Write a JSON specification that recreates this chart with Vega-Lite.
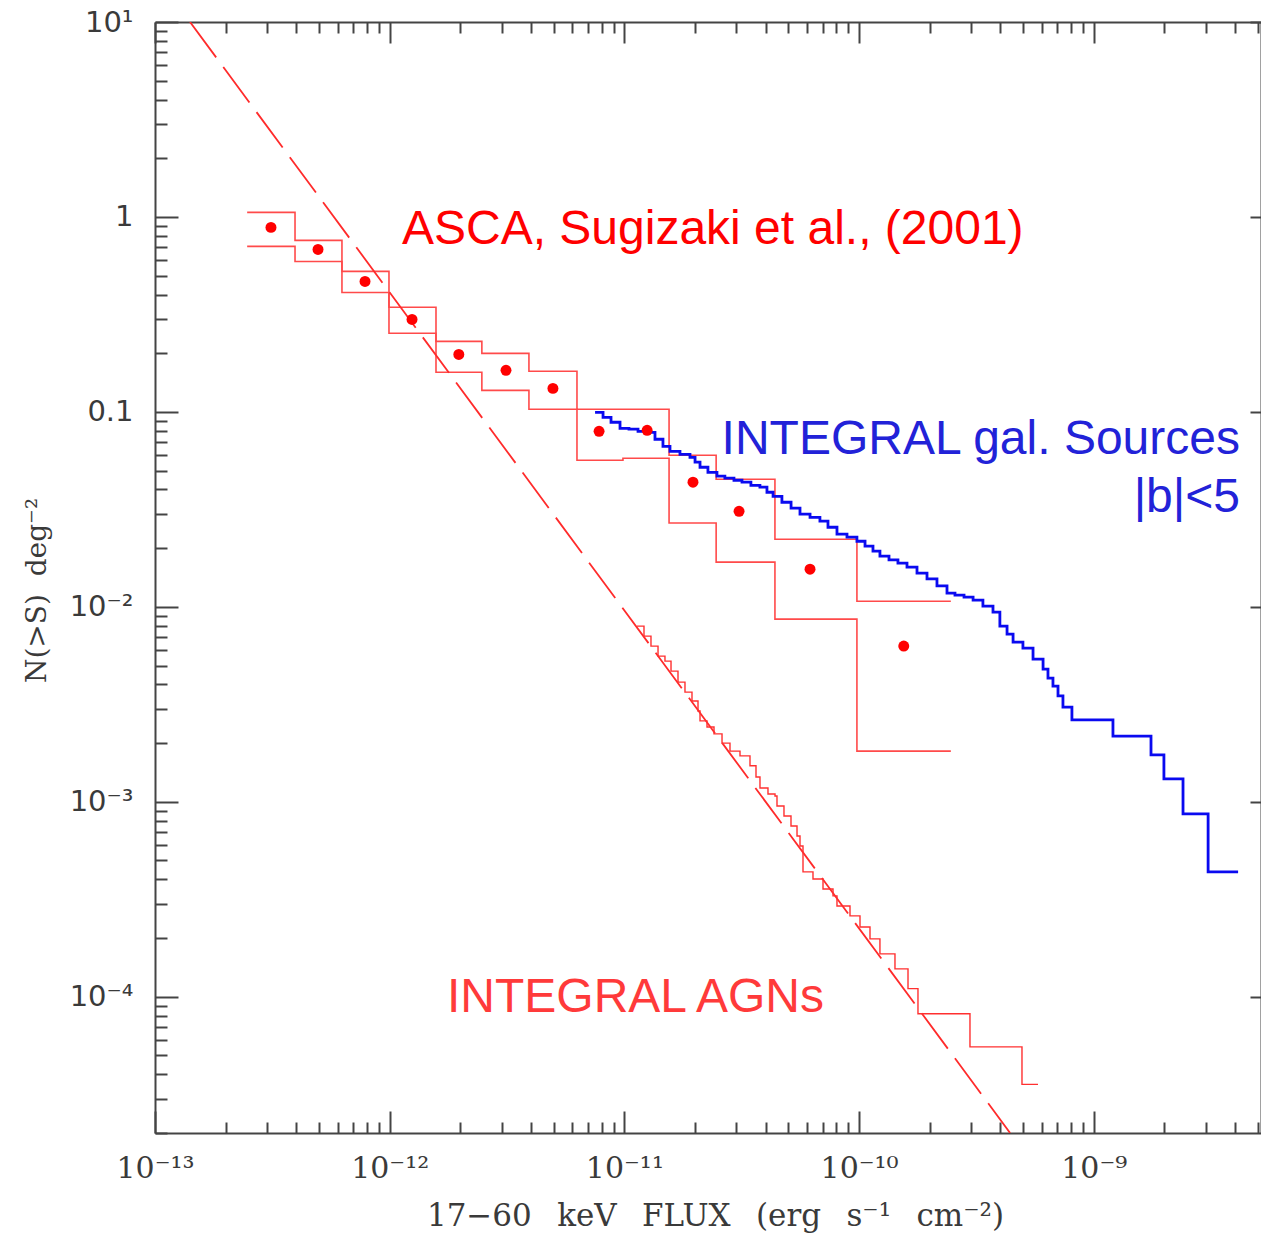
{
  "$schema": "https://vega.github.io/schema/vega-lite/v6.json",
  "autosize": {"type": "none"},
  "padding": {"left": 155, "top": 22, "right": 0, "bottom": 100},
  "width": 1106,
  "height": 1111,
  "background": "white",
  "config": {
    "view": {"stroke": null},
    "axis": {
      "grid": false,
      "domainColor": "#444444",
      "domainWidth": 2,
      "tickColor": "#444444",
      "tickWidth": 2,
      "labelColor": "#3a3a3a",
      "titleColor": "#3a3a3a",
      "titleFontWeight": "normal",
      "labelOverlap": false,
      "labelFlush": false,
      "labelBound": false
    }
  },
  "datasets": {
    "asca_upper": [
      {"flux": 2.47e-13, "n": 1.055},
      {"flux": 3.95e-13, "n": 0.758},
      {"flux": 6.26e-13, "n": 0.526},
      {"flux": 9.93e-13, "n": 0.344},
      {"flux": 1.575e-12, "n": 0.230},
      {"flux": 2.47e-12, "n": 0.1997},
      {"flux": 3.92e-12, "n": 0.1615},
      {"flux": 6.28e-12, "n": 0.1031},
      {"flux": 9.86e-12, "n": 0.1031},
      {"flux": 1.55e-11, "n": 0.0599},
      {"flux": 2.46e-11, "n": 0.0451},
      {"flux": 4.38e-11, "n": 0.0222},
      {"flux": 9.79e-11, "n": 0.01069},
      {"flux": 2.46e-10, "n": 0.01069}
    ],
    "asca_lower": [
      {"flux": 2.47e-13, "n": 0.706},
      {"flux": 3.95e-13, "n": 0.591},
      {"flux": 6.26e-13, "n": 0.410},
      {"flux": 9.93e-13, "n": 0.253},
      {"flux": 1.575e-12, "n": 0.1596},
      {"flux": 2.47e-12, "n": 0.129},
      {"flux": 3.92e-12, "n": 0.1031},
      {"flux": 6.28e-12, "n": 0.0565},
      {"flux": 9.86e-12, "n": 0.0578},
      {"flux": 1.55e-11, "n": 0.0269},
      {"flux": 2.46e-11, "n": 0.01695},
      {"flux": 4.38e-11, "n": 0.00865},
      {"flux": 9.79e-11, "n": 0.00182},
      {"flux": 2.46e-10, "n": 0.00182}
    ],
    "asca_points": [
      {"flux": 3.12e-13, "n": 0.884},
      {"flux": 4.95e-13, "n": 0.681},
      {"flux": 7.85e-13, "n": 0.467},
      {"flux": 1.245e-12, "n": 0.298},
      {"flux": 1.97e-12, "n": 0.197},
      {"flux": 3.13e-12, "n": 0.1634},
      {"flux": 4.96e-12, "n": 0.132},
      {"flux": 7.8e-12, "n": 0.0795},
      {"flux": 1.25e-11, "n": 0.0805},
      {"flux": 1.96e-11, "n": 0.0436},
      {"flux": 3.08e-11, "n": 0.0309},
      {"flux": 6.18e-11, "n": 0.0156},
      {"flux": 1.55e-10, "n": 0.00629}
    ],
    "powerlaw": [
      {"flux": 1.41e-13, "n": 10},
      {"flux": 4.40e-10, "n": 2.0e-5}
    ],
    "integral_agn": [
      {"flux": 1.132e-11, "n": 0.00796},
      {"flux": 1.212e-11, "n": 0.00708},
      {"flux": 1.298e-11, "n": 0.00629},
      {"flux": 1.391e-11, "n": 0.00559},
      {"flux": 1.489e-11, "n": 0.00527},
      {"flux": 1.580e-11, "n": 0.00468},
      {"flux": 1.692e-11, "n": 0.00411},
      {"flux": 1.812e-11, "n": 0.00365},
      {"flux": 1.941e-11, "n": 0.00329},
      {"flux": 2.059e-11, "n": 0.00292},
      {"flux": 2.100e-11, "n": 0.00260},
      {"flux": 2.249e-11, "n": 0.00242},
      {"flux": 2.409e-11, "n": 0.00223},
      {"flux": 2.606e-11, "n": 0.00200},
      {"flux": 2.818e-11, "n": 0.00182},
      {"flux": 3.109e-11, "n": 0.00172},
      {"flux": 3.429e-11, "n": 0.00153},
      {"flux": 3.637e-11, "n": 0.00134},
      {"flux": 3.782e-11, "n": 0.001176},
      {"flux": 4.091e-11, "n": 0.001096},
      {"flux": 4.383e-11, "n": 0.001071},
      {"flux": 4.469e-11, "n": 0.000952},
      {"flux": 4.786e-11, "n": 0.000846},
      {"flux": 5.127e-11, "n": 0.000751},
      {"flux": 5.439e-11, "n": 0.000668},
      {"flux": 5.601e-11, "n": 0.000593},
      {"flux": 5.768e-11, "n": 0.000437},
      {"flux": 6.362e-11, "n": 0.000402},
      {"flux": 7.019e-11, "n": 0.000357},
      {"flux": 7.743e-11, "n": 0.000329},
      {"flux": 8.050e-11, "n": 0.000292},
      {"flux": 9.147e-11, "n": 0.000260},
      {"flux": 1.009e-10, "n": 0.000228},
      {"flux": 1.113e-10, "n": 0.000198},
      {"flux": 1.227e-10, "n": 0.000166},
      {"flux": 1.422e-10, "n": 0.000139},
      {"flux": 1.616e-10, "n": 0.000110},
      {"flux": 1.782e-10, "n": 8.18e-5},
      {"flux": 2.968e-10, "n": 5.53e-5},
      {"flux": 4.944e-10, "n": 3.55e-5},
      {"flux": 5.784e-10, "n": 3.55e-5}
    ],
    "integral_gal": [
      {"flux": 7.50e-12, "n": 0.0995},
      {"flux": 8.11e-12, "n": 0.0938},
      {"flux": 8.77e-12, "n": 0.0885},
      {"flux": 9.58e-12, "n": 0.0824},
      {"flux": 1.046e-11, "n": 0.0815},
      {"flux": 1.143e-11, "n": 0.0795},
      {"flux": 1.248e-11, "n": 0.0786},
      {"flux": 1.350e-11, "n": 0.0724},
      {"flux": 1.460e-11, "n": 0.0666},
      {"flux": 1.564e-11, "n": 0.0628},
      {"flux": 1.725e-11, "n": 0.0606},
      {"flux": 1.903e-11, "n": 0.0585},
      {"flux": 2.00e-11, "n": 0.0552},
      {"flux": 2.10e-11, "n": 0.0520},
      {"flux": 2.27e-11, "n": 0.0490},
      {"flux": 2.48e-11, "n": 0.0468},
      {"flux": 2.68e-11, "n": 0.0457},
      {"flux": 2.93e-11, "n": 0.0446},
      {"flux": 3.17e-11, "n": 0.0436},
      {"flux": 3.46e-11, "n": 0.0420},
      {"flux": 3.78e-11, "n": 0.0411},
      {"flux": 4.05e-11, "n": 0.0387},
      {"flux": 4.30e-11, "n": 0.0369},
      {"flux": 4.69e-11, "n": 0.0344},
      {"flux": 5.13e-11, "n": 0.0321},
      {"flux": 5.60e-11, "n": 0.0299},
      {"flux": 6.18e-11, "n": 0.0288},
      {"flux": 6.81e-11, "n": 0.0275},
      {"flux": 7.37e-11, "n": 0.0256},
      {"flux": 8.05e-11, "n": 0.0236},
      {"flux": 8.88e-11, "n": 0.0228},
      {"flux": 9.79e-11, "n": 0.0217},
      {"flux": 1.060e-10, "n": 0.0205},
      {"flux": 1.146e-10, "n": 0.0193},
      {"flux": 1.227e-10, "n": 0.0182},
      {"flux": 1.341e-10, "n": 0.0174},
      {"flux": 1.464e-10, "n": 0.01675},
      {"flux": 1.600e-10, "n": 0.0160},
      {"flux": 1.765e-10, "n": 0.0149},
      {"flux": 1.947e-10, "n": 0.0139},
      {"flux": 2.147e-10, "n": 0.0128},
      {"flux": 2.369e-10, "n": 0.01175},
      {"flux": 2.562e-10, "n": 0.01148},
      {"flux": 2.80e-10, "n": 0.01121},
      {"flux": 3.06e-10, "n": 0.01082},
      {"flux": 3.37e-10, "n": 0.01008},
      {"flux": 3.72e-10, "n": 0.00939},
      {"flux": 3.98e-10, "n": 0.00796},
      {"flux": 4.27e-10, "n": 0.00725},
      {"flux": 4.53e-10, "n": 0.00659},
      {"flux": 4.99e-10, "n": 0.00614},
      {"flux": 5.51e-10, "n": 0.00539},
      {"flux": 6.08e-10, "n": 0.00479},
      {"flux": 6.38e-10, "n": 0.00431},
      {"flux": 6.70e-10, "n": 0.00392},
      {"flux": 7.04e-10, "n": 0.00349},
      {"flux": 7.39e-10, "n": 0.00306},
      {"flux": 8.07e-10, "n": 0.00263},
      {"flux": 1.207e-9, "n": 0.00217},
      {"flux": 1.753e-9, "n": 0.00174},
      {"flux": 1.99e-9, "n": 0.00131},
      {"flux": 2.40e-9, "n": 0.000866},
      {"flux": 3.07e-9, "n": 0.000437},
      {"flux": 4.12e-9, "n": 0.000437}
    ]
  },
  "resolve": {"axis": {"x": "independent", "y": "independent"}},
  "layer": [
    {
      "data": {"name": "asca_upper"},
      "mark": {"type": "line", "interpolate": "step-after", "color": "#ff4a4a", "strokeWidth": 1.6},
      "encoding": {
        "x": {
          "field": "flux", "type": "quantitative",
          "scale": {"type": "log", "domain": [1e-13, 5.158e-9], "nice": false},
          "axis": {
            "orient": "bottom",
            "values": [1e-13, 2e-13, 3e-13, 4e-13, 5e-13, 6e-13, 7e-13, 8e-13, 9e-13, 1e-12, 2e-12, 3e-12, 4e-12, 5e-12, 6e-12, 7e-12, 8e-12, 9e-12, 1e-11, 2e-11, 3e-11, 4e-11, 5e-11, 6e-11, 7e-11, 8e-11, 9e-11, 1e-10, 2e-10, 3e-10, 4e-10, 5e-10, 6e-10, 7e-10, 8e-10, 9e-10, 1e-9, 2e-9, 3e-9, 4e-9, 5e-9],
            "tickSize": {"condition": {"test": "abs(log(datum.value)/LN10 - round(log(datum.value)/LN10)) < 0.01", "value": -22}, "value": -11},
            "labelExpr": "abs(log(datum.value)/LN10 - round(log(datum.value)/LN10)) > 0.01 ? '' : (round(log(datum.value)/LN10) == -13 ? '10⁻¹³' : round(log(datum.value)/LN10) == -12 ? '10⁻¹²' : round(log(datum.value)/LN10) == -11 ? '10⁻¹¹' : round(log(datum.value)/LN10) == -10 ? '10⁻¹⁰' : '10⁻⁹')",
            "labelFont": "DejaVu Serif",
            "labelFontSize": 30,
            "labelBaseline": "alphabetic",
            "labelPadding": 66,
            "title": "17−60\u2002\u00a0keV\u2002\u00a0FLUX\u2002\u00a0(erg\u2002\u00a0s⁻¹\u2002\u00a0cm⁻²)",
            "titleFont": "DejaVu Serif",
            "titleFontSize": 31,
            "titleX": 560,
            "titleY": 92,
            "titleAlign": "center",
            "titleBaseline": "alphabetic"
          }
        },
        "y": {
          "field": "n", "type": "quantitative",
          "scale": {"type": "log", "domain": [2.0e-5, 10], "nice": false},
          "axis": {
            "orient": "left",
            "values": [2e-5, 3e-5, 4e-5, 5e-5, 6e-5, 7e-5, 8e-5, 9e-5, 1e-4, 2e-4, 3e-4, 4e-4, 5e-4, 6e-4, 7e-4, 8e-4, 9e-4, 1e-3, 2e-3, 3e-3, 4e-3, 5e-3, 6e-3, 7e-3, 8e-3, 9e-3, 0.01, 0.02, 0.03, 0.04, 0.05, 0.06, 0.07, 0.08, 0.09, 0.1, 0.2, 0.3, 0.4, 0.5, 0.6, 0.7, 0.8, 0.9, 1, 2, 3, 4, 5, 6, 7, 8, 9, 10],
            "tickSize": {"condition": {"test": "abs(log(datum.value)/LN10 - round(log(datum.value)/LN10)) < 0.01", "value": -23}, "value": -12},
            "labelExpr": "abs(log(datum.value)/LN10 - round(log(datum.value)/LN10)) > 0.01 ? '' : (round(log(datum.value)/LN10) == 1 ? '10¹' : round(log(datum.value)/LN10) == 0 ? '1' : round(log(datum.value)/LN10) == -1 ? '0.1' : round(log(datum.value)/LN10) == -2 ? '10⁻²' : round(log(datum.value)/LN10) == -3 ? '10⁻³' : '10⁻⁴')",
            "labelFont": "DejaVu Sans",
            "labelFontSize": 29,
            "labelPadding": 45,
            "title": "N(>S)\u00a0\u00a0deg⁻²",
            "titleFont": "DejaVu Serif",
            "titleFontSize": 28,
            "titleAngle": 270,
            "titleX": -118,
            "titleY": 568,
            "titleAlign": "center",
            "titleBaseline": "middle"
          }
        }
      }
    },
    {
      "data": {"name": "asca_lower"},
      "mark": {"type": "line", "interpolate": "step-after", "color": "#ff4a4a", "strokeWidth": 1.6},
      "encoding": {
        "x": {
          "field": "flux", "type": "quantitative",
          "scale": {"type": "log", "domain": [1e-13, 5.158e-9], "nice": false},
          "axis": {
            "orient": "top",
            "values": [1e-13, 2e-13, 3e-13, 4e-13, 5e-13, 6e-13, 7e-13, 8e-13, 9e-13, 1e-12, 2e-12, 3e-12, 4e-12, 5e-12, 6e-12, 7e-12, 8e-12, 9e-12, 1e-11, 2e-11, 3e-11, 4e-11, 5e-11, 6e-11, 7e-11, 8e-11, 9e-11, 1e-10, 2e-10, 3e-10, 4e-10, 5e-10, 6e-10, 7e-10, 8e-10, 9e-10, 1e-9, 2e-9, 3e-9, 4e-9, 5e-9],
            "tickSize": {"condition": {"test": "abs(log(datum.value)/LN10 - round(log(datum.value)/LN10)) < 0.01", "value": -21}, "value": -11},
            "labels": false,
            "title": null
          }
        },
        "y": {
          "field": "n", "type": "quantitative",
          "scale": {"type": "log", "domain": [2.0e-5, 10], "nice": false},
          "axis": {
            "orient": "right",
            "values": [1e-4, 1e-3, 0.01, 0.1, 1, 10],
            "tickSize": -11,
            "labels": false,
            "title": null
          }
        }
      }
    },
    {
      "data": {"name": "powerlaw"},
      "mark": {"type": "line", "color": "#ff2b2b", "strokeWidth": 1.8, "strokeDash": [44, 12], "clip": true},
      "encoding": {
        "x": {"field": "flux", "type": "quantitative", "axis": null},
        "y": {"field": "n", "type": "quantitative", "axis": null}
      }
    },
    {
      "data": {"name": "integral_agn"},
      "mark": {"type": "line", "interpolate": "step-after", "color": "#ff3030", "strokeWidth": 1.4},
      "encoding": {
        "x": {"field": "flux", "type": "quantitative", "axis": null},
        "y": {"field": "n", "type": "quantitative", "axis": null}
      }
    },
    {
      "data": {"name": "integral_gal"},
      "mark": {"type": "line", "interpolate": "step-after", "color": "#0a0af0", "strokeWidth": 2.8},
      "encoding": {
        "x": {"field": "flux", "type": "quantitative", "axis": null},
        "y": {"field": "n", "type": "quantitative", "axis": null}
      }
    },
    {
      "data": {"name": "asca_points"},
      "mark": {"type": "circle", "color": "#ff0000", "opacity": 1, "size": 120},
      "encoding": {
        "x": {"field": "flux", "type": "quantitative", "axis": null},
        "y": {"field": "n", "type": "quantitative", "axis": null}
      }
    },
    {
      "data": {"values": [{}]},
      "mark": {"type": "text", "text": "ASCA, Sugizaki et al., (2001)", "font": "Liberation Sans", "fontSize": 48, "color": "#ff0000", "align": "left", "baseline": "alphabetic"},
      "encoding": {
        "x": {"datum": 1.128e-12, "type": "quantitative", "axis": null},
        "y": {"datum": 0.7228, "type": "quantitative", "axis": null}
      }
    },
    {
      "data": {"values": [{}]},
      "mark": {"type": "text", "text": "INTEGRAL gal. Sources", "font": "Liberation Sans", "fontSize": 48, "color": "#2222d8", "align": "right", "baseline": "alphabetic"},
      "encoding": {
        "x": {"datum": 4.197e-9, "type": "quantitative", "axis": null},
        "y": {"datum": 0.06064, "type": "quantitative", "axis": null}
      }
    },
    {
      "data": {"values": [{}]},
      "mark": {"type": "text", "text": "|b|<5", "font": "Liberation Sans", "fontSize": 48, "color": "#2222d8", "align": "right", "baseline": "alphabetic"},
      "encoding": {
        "x": {"datum": 4.197e-9, "type": "quantitative", "axis": null},
        "y": {"datum": 0.03058, "type": "quantitative", "axis": null}
      }
    },
    {
      "data": {"values": [{}]},
      "mark": {"type": "text", "text": "INTEGRAL AGNs", "font": "Liberation Sans", "fontSize": 48, "color": "#ff3a3a", "align": "left", "baseline": "alphabetic"},
      "encoding": {
        "x": {"datum": 1.754e-12, "type": "quantitative", "axis": null},
        "y": {"datum": 8.37e-5, "type": "quantitative", "axis": null}
      }
    }
  ]
}
